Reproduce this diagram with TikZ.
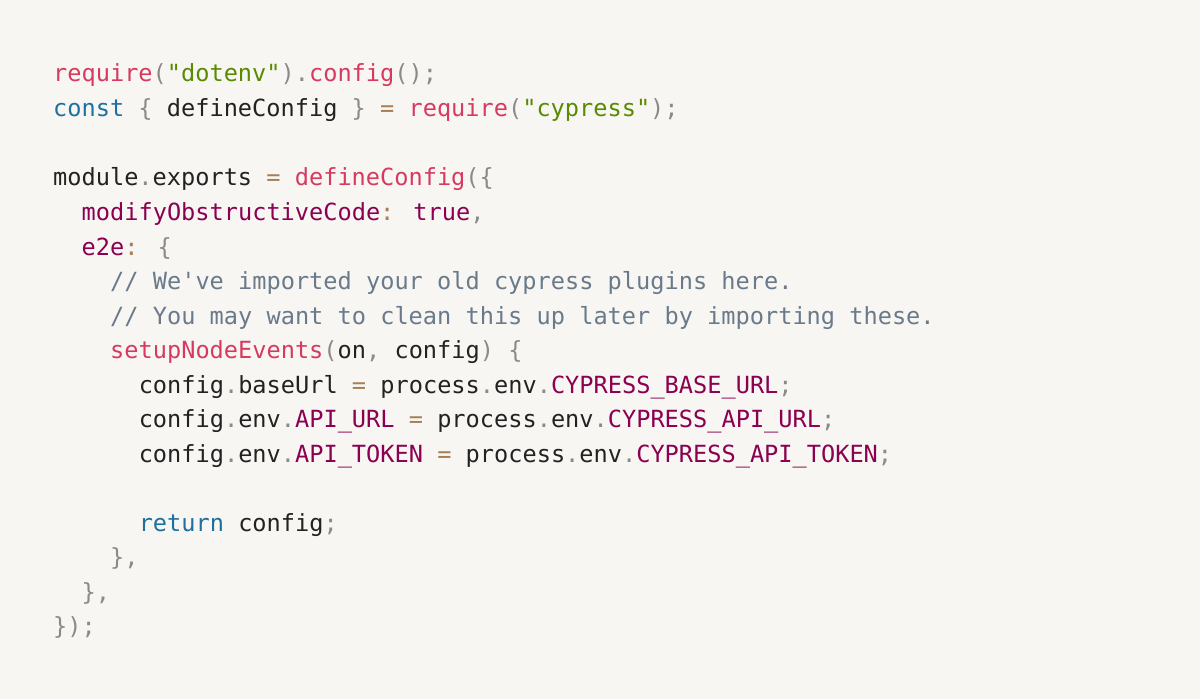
\documentclass[tikz,border=0pt]{standalone}
\usepackage{fontspec}
\newfontfamily\code{DejaVu Sans Mono}
\definecolor{bg}{HTML}{F7F6F3}
\definecolor{fn}{HTML}{D73A5E}
\definecolor{str}{HTML}{5A8A00}
\definecolor{kw}{HTML}{1F6F9F}
\definecolor{prop}{HTML}{8B0050}
\definecolor{pun}{HTML}{8A8A8A}
\definecolor{op}{HTML}{A67F59}
\definecolor{cm}{HTML}{6A7A8A}
\definecolor{tx}{HTML}{222222}
\newcommand\cF[1]{\textcolor{fn}{#1}}
\newcommand\cS[1]{\textcolor{str}{#1}}
\newcommand\cK[1]{\textcolor{kw}{#1}}
\newcommand\cP[1]{\textcolor{prop}{#1}}
\newcommand\cU[1]{\textcolor{pun}{#1}}
\newcommand\cO[1]{\textcolor{op}{#1}}
\newcommand\cC[1]{\textcolor{cm}{#1}}
\tikzset{ln/.style={anchor=base west,inner sep=0pt,font=\code\fontsize{23.7}{30}\selectfont,text=tx}}
\begin{document}
\begin{tikzpicture}[x=1bp,y=-1bp]
\fill[bg] (0,0) rectangle (1200,699);
\useasboundingbox (0,0) rectangle (1200,699);
\def\cw{14.26}
\node[ln] (l1) at (53,82) {\cF{require}\cU{(}\cS{"dotenv"}\cU{).}\cF{config}\cU{();}};
\node[ln] (l2) at (53,116.5) {\cK{const} \cU{\{} defineConfig \cU{\}} \cO{=} \cF{require}\cU{(}\cS{"cypress"}\cU{);}};
\node[ln] (l3) at (53,186) {module\cU{.}exports \cO{=} \cF{defineConfig}\cU{(\{}};
\node[ln] (l4) at (53+2*\cw,220.5) {\cP{modifyObstructiveCode}\cO{:} \cP{true}\cU{,}};
\node[ln] (l5) at (53+2*\cw,255) {\cP{e2e}\cO{:} \cU{\{}};
\node[ln] (l6) at (53+4*\cw,289.5) {\cC{// We've imported your old cypress plugins here.}};
\node[ln] (l7) at (53+4*\cw,324) {\cC{// You may want to clean this up later by importing these.}};
\node[ln] (l8) at (53+4*\cw,358.5) {\cF{setupNodeEvents}\cU{(}on\cU{,} config\cU{)} \cU{\{}};
\node[ln] (l9) at (53+6*\cw,393) {config\cU{.}baseUrl \cO{=} process\cU{.}env\cU{.}\cP{CYPRESS\_BASE\_URL}\cU{;}};
\node[ln] (l10) at (53+6*\cw,427.5) {config\cU{.}env\cU{.}\cP{API\_URL} \cO{=} process\cU{.}env\cU{.}\cP{CYPRESS\_API\_URL}\cU{;}};
\node[ln] (l11) at (53+6*\cw,462) {config\cU{.}env\cU{.}\cP{API\_TOKEN} \cO{=} process\cU{.}env\cU{.}\cP{CYPRESS\_API\_TOKEN}\cU{;}};
\node[ln] (l12) at (53+6*\cw,531) {\cK{return} config\cU{;}};
\node[ln] (l13) at (53+4*\cw,565.5) {\cU{\},}};
\node[ln] (l14) at (53+2*\cw,600) {\cU{\},}};
\node[ln] (l15) at (53,634.5) {\cU{\});}};
\end{tikzpicture}
\end{document}
